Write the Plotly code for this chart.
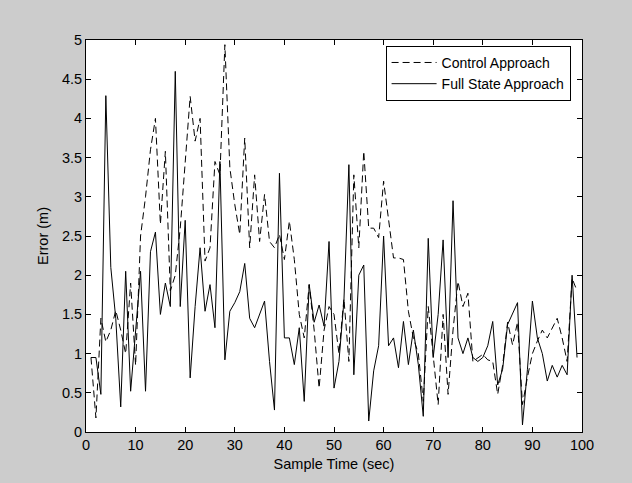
import plotly.graph_objects as go

sample_time = list(range(1, 100))

control_approach = [
    0.95, 0.18, 1.45, 1.15, 1.30, 1.55, 1.30, 1.00, 1.90, 0.85,
    2.50, 3.00, 3.60, 4.00, 2.65, 3.58, 1.80, 2.00, 2.60, 3.50,
    4.28, 3.71, 4.00, 2.18, 2.35, 3.45, 3.28, 4.94, 3.37, 2.90,
    2.52, 3.75, 2.35, 3.28, 2.43, 3.03, 2.43, 2.35, 2.52, 2.20,
    2.69, 2.20, 1.50, 1.20, 1.88, 1.30, 0.56, 1.30, 1.60, 1.50,
    1.00, 1.70, 0.90, 3.28, 2.35, 3.58, 2.60, 2.60, 2.48, 3.20,
    2.70, 2.22, 2.22, 2.20, 1.54, 1.20, 1.00, 0.39, 1.60, 1.00,
    0.35, 1.50, 0.48, 1.30, 1.92, 1.60, 1.77, 0.90, 0.95, 0.99,
    0.92, 0.90, 0.48, 0.85, 1.40, 1.11, 1.40, 0.35, 0.70, 1.00,
    1.16, 1.30, 1.20, 1.33, 1.45, 1.20, 0.90, 1.96, 1.80,
]

full_state_approach = [
    0.95, 0.95, 0.48, 4.29, 2.10, 1.45, 0.32, 2.05, 0.52, 1.30,
    2.05, 0.52, 2.30, 2.55, 1.50, 1.90, 1.60, 4.60, 1.60, 2.70,
    0.69, 1.60, 2.35, 1.54, 1.88, 1.33, 3.45, 0.92, 1.54, 1.65,
    1.79, 2.15, 1.45, 1.33, 1.50, 1.67, 0.90, 0.28, 3.30, 1.20,
    1.20, 0.86, 1.33, 0.39, 1.88, 1.40, 1.62, 1.35, 2.43, 0.56,
    0.90, 1.67, 3.41, 0.73, 2.00, 2.13, 0.14, 0.78, 1.10, 2.50,
    1.10, 1.20, 0.82, 1.41, 0.86, 1.30, 0.86, 0.20, 2.47, 0.95,
    1.50, 2.45, 0.95, 2.95, 1.20, 1.00, 1.20, 0.95, 0.90, 0.95,
    1.10, 1.41, 0.60, 0.80, 1.37, 1.50, 1.65, 0.09, 0.80, 1.67,
    1.20, 1.00, 0.65, 0.85, 0.70, 0.85, 0.73, 2.00, 0.95,
]

x_ticks = [0, 10, 20, 30, 40, 50, 60, 70, 80, 90, 100]
y_ticks = [0, 0.5, 1, 1.5, 2, 2.5, 3, 3.5, 4, 4.5, 5]

font = dict(family="Liberation Sans, Arial, sans-serif", size=14.5, color="#000000")

fig = go.Figure()
fig.add_trace(go.Scatter(
    x=sample_time, y=control_approach, mode="lines", name="Control Approach",
    line=dict(color="#000000", width=1, dash="7px,4px"),
))
fig.add_trace(go.Scatter(
    x=sample_time, y=full_state_approach, mode="lines", name="Full State Approach",
    line=dict(color="#000000", width=1),
))

axis_common = dict(
    showline=True, linecolor="#000000", linewidth=1, mirror="ticks",
    ticks="inside", ticklen=5, tickcolor="#000000", showgrid=False,
    zeroline=False, tickfont=font,
)

fig.update_layout(
    width=632, height=483,
    paper_bgcolor="#cccccc", plot_bgcolor="#ffffff",
    margin=dict(l=86, r=50, t=40, b=51),
    font=font,
    xaxis=dict(range=[0, 100], tickvals=x_ticks, ticklabelstandoff=0,
               title=dict(text="Sample Time (sec)", font=font, standoff=6),
               **axis_common),
    yaxis=dict(range=[0, 5], tickvals=y_ticks,
               title=dict(text="Error (m)", font=font, standoff=9),
               **axis_common),
    legend=dict(x=0.977, y=0.985, xanchor="right", yanchor="top",
                bgcolor="#ffffff", bordercolor="#000000", borderwidth=1,
                font=dict(family="Liberation Sans, Arial, sans-serif", size=14, color="#000000"),
                itemwidth=45, tracegroupgap=0),
    showlegend=True,
)

fig.write_html("out.html")
